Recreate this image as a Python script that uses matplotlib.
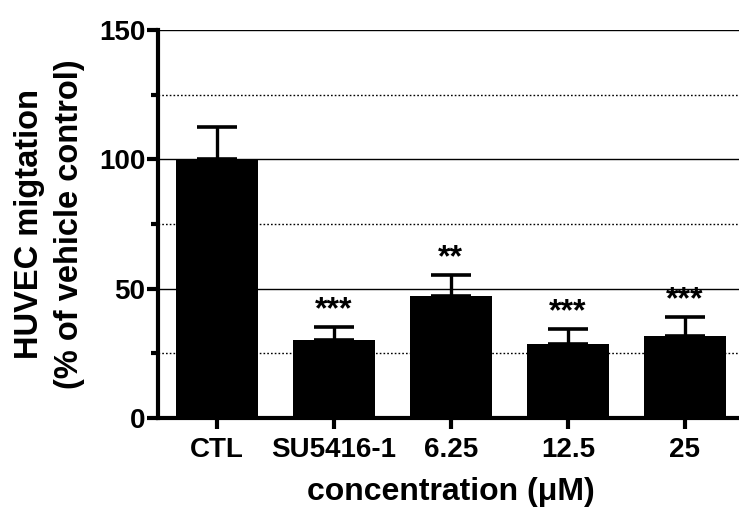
import matplotlib
matplotlib.use("Agg")
import matplotlib.pyplot as plt
from matplotlib.ticker import MultipleLocator

categories = ["CTL", "SU5416-1", "6.25", "12.5", "25"]
means = [100, 30, 47, 28.6, 31.7]
sem = [12.5, 5.2, 8.3, 5.9, 7.5]
stars = ["", "***", "**", "***", "***"]

plt.rcParams["font.family"] = ["Liberation Sans", "DejaVu Sans"]
plt.rcParams["font.weight"] = "bold"

fig = plt.figure(figsize=(7.39, 5.14), dpi=100)
ax = fig.add_axes([0.2138, 0.1868, 0.7923, 0.7549])

x = list(range(len(categories)))
ax.bar(x, means, width=0.7, color="black", zorder=3)
ax.errorbar(x, means, yerr=[[0] * len(sem), sem], fmt="none", ecolor="black",
            elinewidth=2.4, capsize=14.5, capthick=2.6, zorder=2)

for xi, m, s, st in zip(x, means, sem, stars):
    if st:
        ax.text(xi, m + s + 0.5, st, ha="center", va="bottom", fontsize=23,
                fontweight="bold")

ax.set_xlim(-0.5, 4.5)
ax.set_ylim(0, 150)
ax.yaxis.set_major_locator(MultipleLocator(50))
ax.yaxis.set_minor_locator(MultipleLocator(25))

ax.grid(axis="y", which="major", color="black", linewidth=1.0, zorder=0)
ax.grid(axis="y", which="minor", color="black", linewidth=1.0,
        linestyle=(0, (1.2, 1.5)), zorder=0)
ax.set_axisbelow(True)

for side in ["top", "right"]:
    ax.spines[side].set_visible(False)
ax.spines["left"].set_linewidth(3)
ax.spines["bottom"].set_linewidth(3)

ax.set_xticks(x)
ax.set_xticklabels(categories)
ax.tick_params(axis="x", length=8, width=3, labelsize=20, pad=6)
ax.tick_params(axis="y", which="major", length=8, width=3, labelsize=20, pad=1)
ax.tick_params(axis="y", which="minor", length=5, width=3)
for lbl in ax.get_xticklabels() + ax.get_yticklabels():
    lbl.set_fontweight("bold")

ax.set_ylabel("HUVEC migtation\n(% of vehicle control)", fontsize=23.5,
              fontweight="bold", labelpad=10, linespacing=1.38)
ax.set_xlabel("concentration (\u03bcM)", fontsize=23, fontweight="bold",
              labelpad=10)

fig.savefig("out.png", dpi=100)
